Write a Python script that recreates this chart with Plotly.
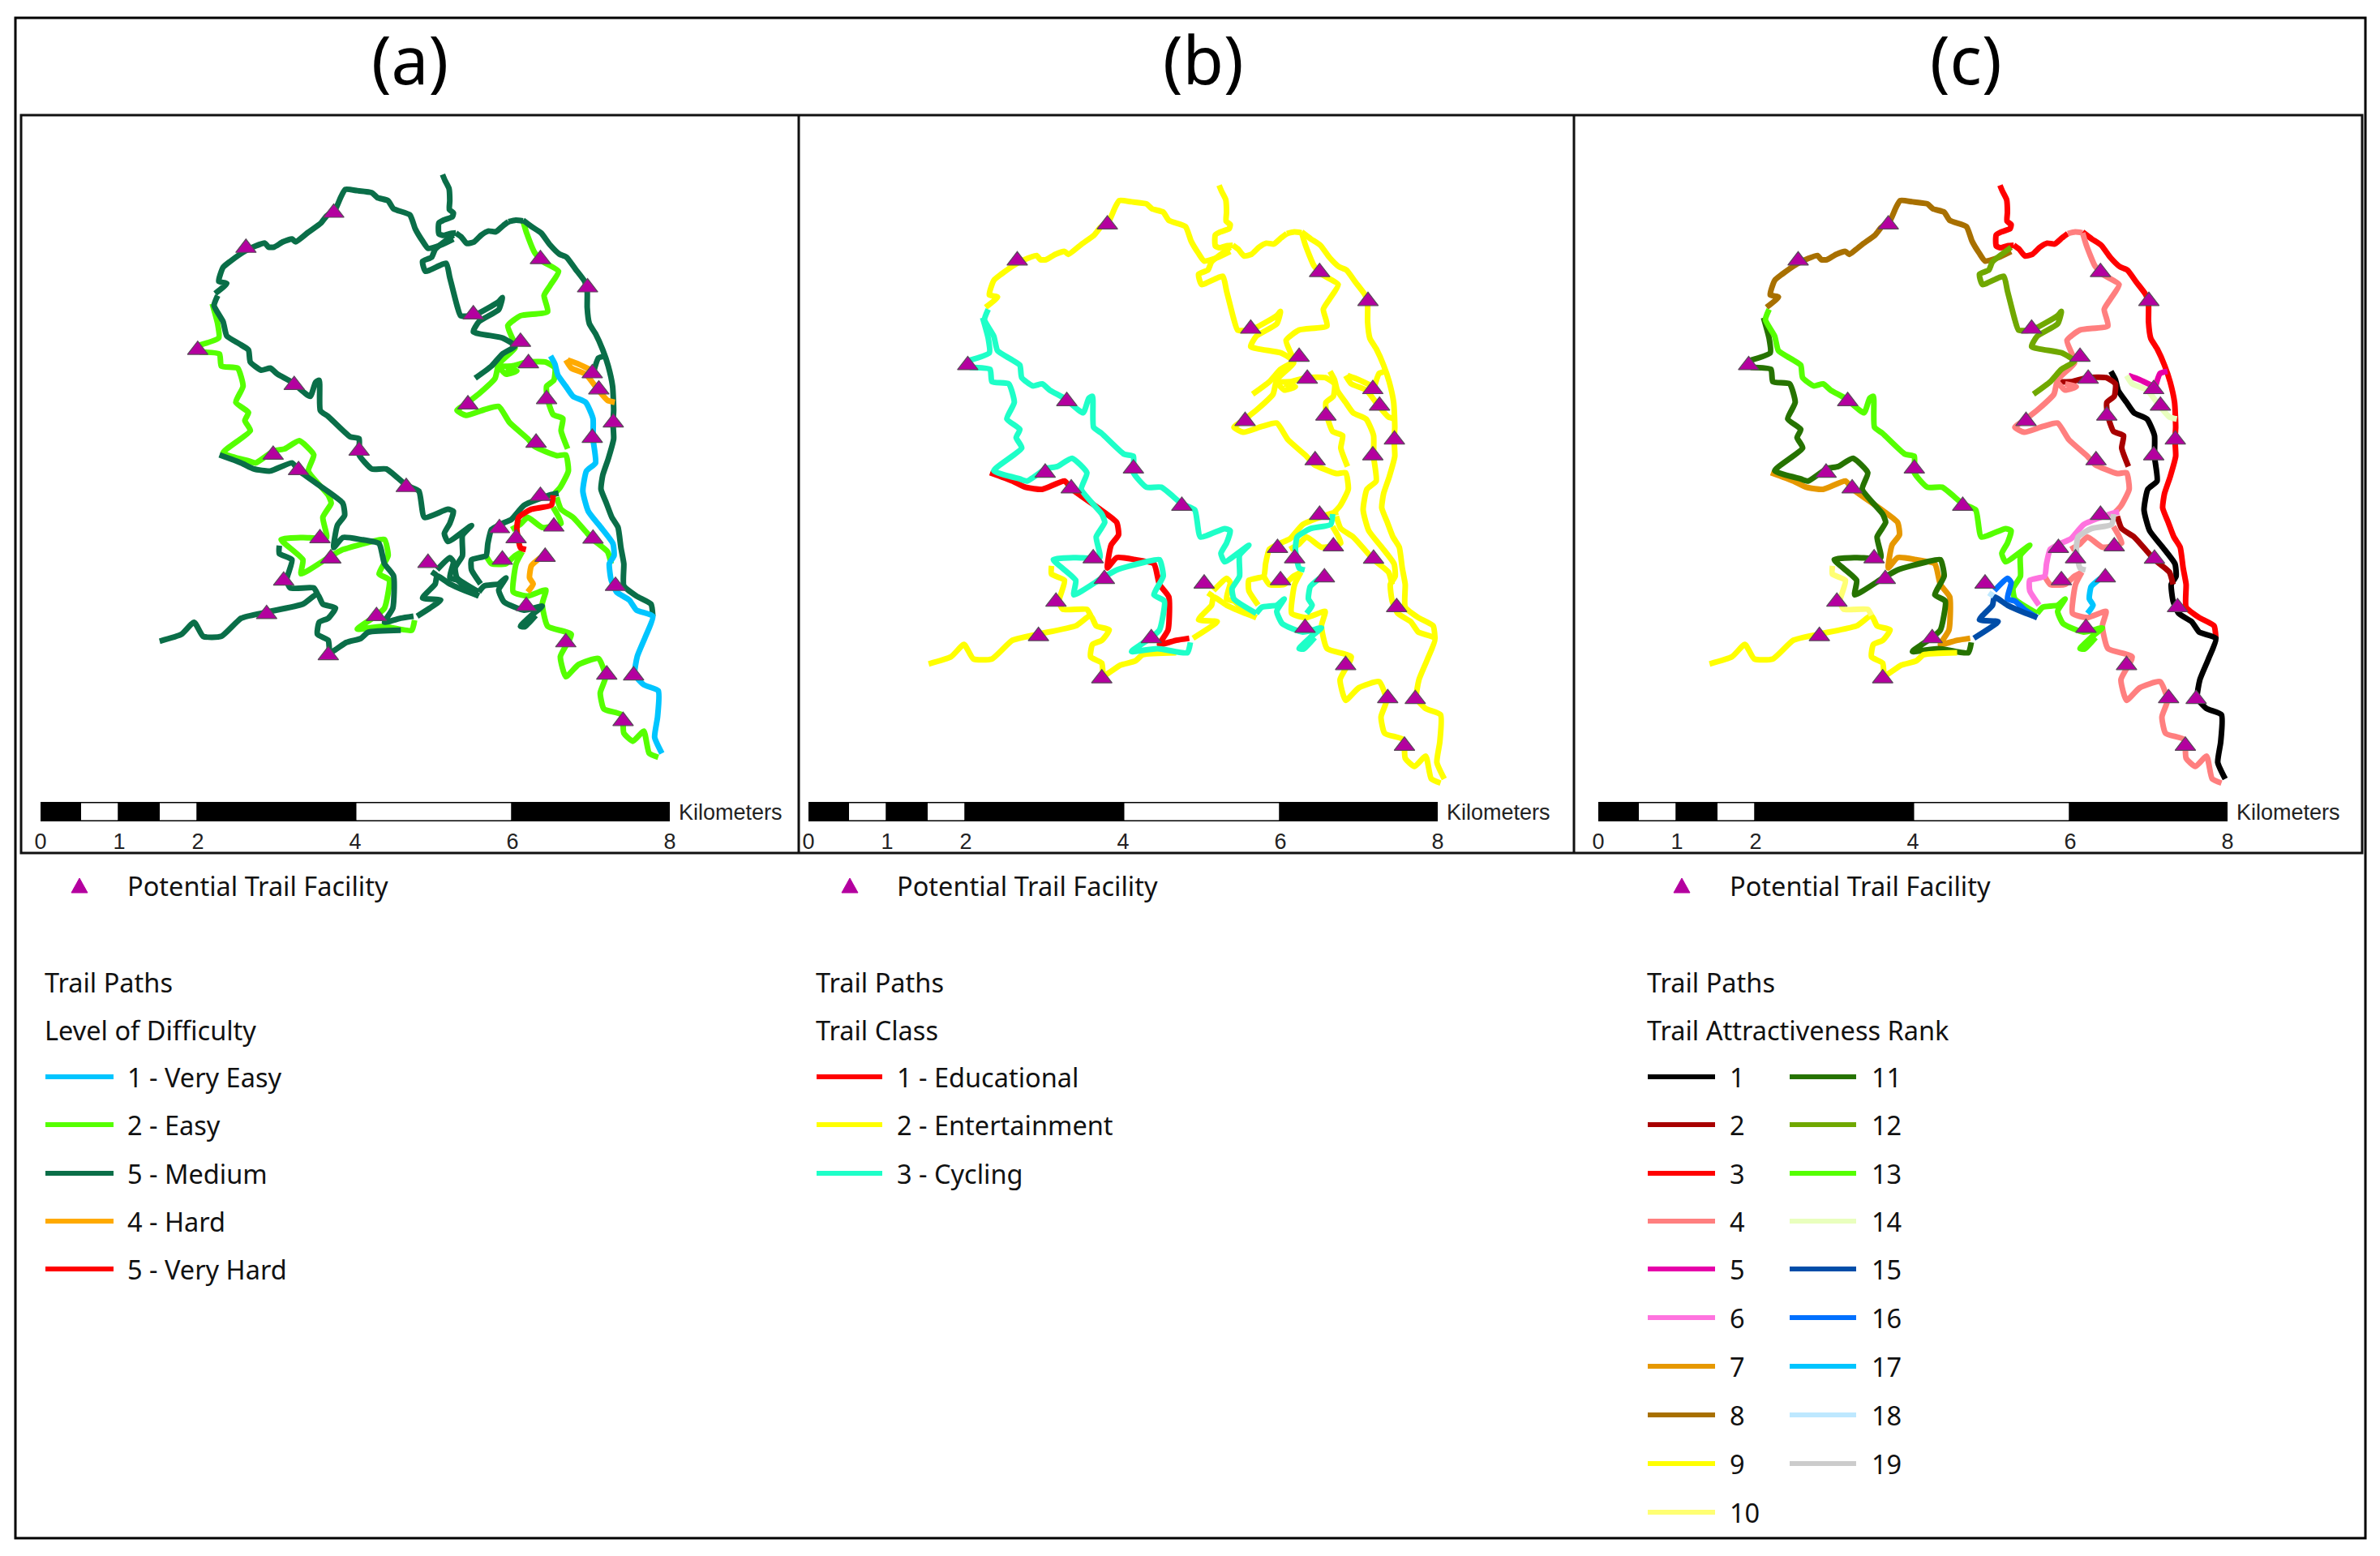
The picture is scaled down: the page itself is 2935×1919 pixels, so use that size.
import plotly.graph_objects as go

W, H = 2935, 1919

# trail lines, in map units
crest_west = [(258,390),(290,365),(268,360),(280,325),(300,310),(340,285),(370,272),(395,265),(405,275),(420,275),(445,262),(470,255),(480,262),(515,238),(550,215),(565,198),(590,180),(605,150),(617,132),(650,135),(690,140),(705,152),(735,160),(750,180),(795,195),(810,230),(830,260),(845,278),(880,270),(915,255)]
north_spur = [(885,95),(892,110),(903,130),(905,160),(904,182),(915,190),(912,200),(888,208),(875,215),(875,242),(888,246),(908,241),(922,240)]
crest_north = [(922,240),(937,250),(952,266),(972,262),(992,245),(1012,235),(1032,237),(1052,222),(1067,212)]
crest_link = [(1067,212),(1087,208),(1107,210)]
east_ridge = [(1107,208),(1132,225),(1157,240),(1182,270),(1207,292),(1227,300),(1252,330),(1277,360),(1284,385),(1284,425),(1290,465),(1307,490),(1327,530),(1342,570),(1354,620),(1357,680),(1355,710),(1357,750),(1342,800),(1327,840),(1322,875),(1337,910),(1352,945),(1369,970),(1377,1020),(1385,1060),(1385,1115),(1420,1140),(1460,1160),(1465,1190)]
valley_east = [(1183,545),(1195,565),(1203,592),(1225,620),(1245,645),(1280,660),(1300,700),(1300,750),(1307,810),(1282,830),(1272,880),(1287,930),(1322,970),(1355,1010),(1358,1040),(1345,1060),(1350,1100),(1365,1130),(1400,1150),(1420,1175),(1465,1190),(1445,1240),(1422,1290),(1415,1335),(1440,1360),(1480,1375),(1478,1440),(1470,1490),(1490,1530)]
spur_mid_upper = [(1040,570),(1075,570),(1120,560),(1170,560),(1195,575),(1192,605),(1172,620),(1174,650),(1190,690),(1217,700),(1212,730),(1230,775)]
spur_mid_lower = [(1200,895),(1212,925),(1245,945),(1280,980),(1300,1000),(1340,1030),(1350,1060)]
loop_north = [(1107,210),(1117,240),(1140,290),(1160,310),(1205,335),(1182,370),(1165,395),(1175,435),(1100,445),(1065,470),(1082,510),(1085,525),(1040,565),(1030,600),(990,635),(955,660),(925,680),(950,692),(1000,678),(1040,670),(1070,710),(1120,750),(1140,770),(1200,792),(1225,790),(1232,830),(1210,870),(1195,885)]
loop_hook = [(1040,572),(1060,590),(1090,582),(1060,575)]
loop_inner = [(1190,920),(1212,960),(1160,970),(1120,945),(1100,962),(1075,975)]
loop_link = [(1005,1040),(1020,1060),(1060,1060),(1085,1040),(1105,1030)]
south_descent = [(1105,1030),(1088,1060),(1080,1130),(1120,1140),(1170,1125),(1160,1160),(1175,1215),(1240,1235),(1210,1290),(1225,1340),(1260,1310),(1315,1295),(1335,1340),(1320,1380),(1330,1420),(1380,1435),(1385,1480),(1410,1500),(1440,1475),(1455,1530),(1480,1540)]
east_bend_a = [(1230,555),(1260,565),(1295,580)]
east_bend_b = [(1300,590),(1315,550),(1335,545)]
east_link = [(1225,555),(1240,575),(1280,590),(1315,630),(1340,655),(1360,660)]
village_west = [(990,1110),(965,1075),(965,1050),(1005,1040),(1010,1010),(1020,975),(1050,960),(1075,950),(1110,915),(1180,890),(1205,885)]
village_core = [(1190,890),(1185,915),(1130,925),(1095,945),(1090,975),(1100,1020),(1115,1025)]
village_south = [(1155,1045),(1130,1065),(1125,1095),(1135,1110),(1120,1130)]
west_lower = [(270,790),(330,810),(365,825),(410,830),(470,810),(490,830),(560,875),(610,910),(615,940),(595,965),(585,1020),(610,995),(660,1000),(710,1010),(725,1060),(750,1090),(748,1170),(725,1205),(770,1195),(805,1190)]
west_upper_a = [(250,415),(265,465),(268,500),(215,518)]
west_upper_b = [(215,535),(270,540),(275,570),(320,575),(335,620),(315,660),(350,685),(340,705),(355,730),(280,785),(350,805),(370,810),(420,780),(450,775),(490,755),(530,790),(515,830),(570,890),(578,910),(555,945),(565,995),(500,995),(440,1000),(500,1050),(495,1085),(570,1045),(610,1025),(690,1005),(725,1000),(735,1040),(710,1085),(738,1100),(725,1170),(700,1190),(650,1222),(720,1215),(800,1225),(808,1200)]
central_ridge = [(265,395),(255,420),(280,460),(290,495),(325,515),(350,530),(355,560),(385,580),(410,575),(430,590),(470,610),(520,645),(535,610),(545,605),(548,680),(570,695),(630,745),(655,750),(655,790),(690,825),(730,825),(785,865),(820,880),(835,945),(900,925),(915,930),(905,960),(890,985),(900,1005),(965,965),(940,990),(940,1040),(920,1070),(925,1095),(985,1130)]
central_south = [(985,1130),(1000,1115),(1040,1110),(1060,1095),(1040,1125),(1055,1155),(1110,1175),(1160,1165),(1130,1188),(1100,1215),(1112,1216),(1142,1188)]
gorge_blue = [(870,1075),(905,1045),(915,1055),(905,1095),(925,1100),(950,1120),(985,1140)]
gorge_dark = [(815,1190),(850,1170),(880,1150),(830,1145),(865,1110),(870,1090),(905,1110),(950,1128),(985,1140)]
gorge_pale = [(855,1080),(868,1088)]
ridge_olive = [(915,245),(865,280),(855,300),(830,310),(838,335),(895,315),(905,350),(925,420),(935,445),(970,445),(1040,410),(1050,400),(1040,430),(985,460),(970,485),(1050,500),(1085,520),(1050,540),(1020,570),(975,600)]
southwest_road = [(105,1252),(165,1235),(200,1205),(225,1240),(275,1240),(330,1195),(400,1180),(500,1160),(540,1135),(555,1160),(590,1170),(570,1195),(545,1205),(540,1235),(570,1250),(575,1280),(620,1255),(660,1245),(680,1230),(770,1225)]
southwest_link = [(435,1015),(435,1035),(470,1050),(455,1100),(465,1120),(530,1120),(540,1135)]

trail_paths = [crest_west, north_spur, crest_north, crest_link, east_ridge, valley_east, spur_mid_upper, spur_mid_lower,
               loop_north, loop_hook, loop_inner, loop_link, south_descent, east_bend_a, east_bend_b, east_link,
               village_west, village_core, village_south, west_lower, west_upper_a, west_upper_b, central_ridge,
               central_south, gorge_blue, gorge_dark, gorge_pale, ridge_olive, southwest_road, southwest_link]
trail_level = ["5m", "5m", "5m", "5m", "5m", "1", "2", "2",
               "2", "2", "2", "2", "2", "4", "5m", "4",
               "5m", "5h", "4", "5m", "2", "2", "5m",
               "5m", "5m", "5m", "5m", "5m", "5m", "5m"]
trail_class = [2, 2, 2, 2, 2, 2, 2, 2,
               2, 2, 2, 2, 2, 2, 2, 2,
               2, 3, 3, 1, 3, 3, 3,
               3, 2, 2, 2, 2, 2, 2]
trail_rank = [8, 3, 3, 4, 3, 1, 2, 2,
              4, 4, 4, 4, 4, 5, 5, 14,
              6, 19, 17, 7, 11, 11, 13,
              13, 16, 15, 18, 12, 9, 10]

facility_x = [585,343,210,476,655,785,418,488,547,577,447,400,570,703,845,970,1100,1122,1155,1285,955,1172,1143,1298,1316,1356,1298,1155,1042,1088,1192,1050,1168,1300,1362,1116,1225,1338,1412,1383]
facility_y = [190,277,530,617,780,870,790,828,997,1047,1102,1185,1287,1190,1058,442,510,563,305,375,665,652,760,588,628,710,748,892,972,997,968,1050,1043,998,1115,1165,1255,1335,1337,1450]

level_keys = ["1", "2", "5m", "4", "5h"]
level_labels = ["1 - Very Easy", "2 - Easy", "5 - Medium", "4 - Hard", "5 - Very Hard"]
level_colors = ["#00c5ff", "#55ff00", "#0a6e48", "#ffaa00", "#ff0000"]
class_keys = [1, 2, 3]
class_labels = ["1 - Educational", "2 - Entertainment", "3 - Cycling"]
class_colors = ["#ff0000", "#ffff00", "#1effc8"]
rank_keys = list(range(1, 20))
rank_colors = ["#000000", "#a80000", "#ff0000", "#ff7f7f", "#e600a9", "#ff73df", "#e69800", "#a87000", "#ffff00", "#ffff73",
               "#267300", "#70a800", "#55ff00", "#e9ffbe", "#004da8", "#0070ff", "#00c5ff", "#bee8ff", "#cccccc"]

scale_km = [0, 1, 2, 4, 6, 8]
scale_left = [0, 0.5, 1, 1.5, 2, 4, 6]
scale_width = [0.5, 0.5, 0.5, 0.5, 2, 2, 2]
scale_fill = ["black", "white", "black", "white", "black", "white", "black"]

TEXT = "Noto Sans"
LABEL = "Liberation Sans"
FACILITY = "#b4009f"
SIZE = 32.5


def px(x):
    return x / W


def py(y):
    return 1 - y / H


fig = go.Figure()

# panel: frame, linear map from map units to page pixels, scale bar, legend x positions
panels = [
    dict(name="a", title="(a)", cx=505, left=26, right=985, ax=196 + 0.974 * (2060 - 2107.3), bx=0.974 / 2.178,
         ay=791 + 0.975 * (180 - 819), by=0.975 / 1.96, bar=50, tri=98, txt=155, key0=56, key1=140),
    dict(name="b", title="(b)", cx=1484, left=985, right=1941, ax=2060 - 963, bx=1 / 2.178,
         ay=180, by=1 / 1.96, bar=997, tri=1048, txt=1104, key0=1007, key1=1088),
    dict(name="c", title="(c)", cx=2424, left=1941, right=2913, ax=2060, bx=1 / 2.178,
         ay=180, by=1 / 1.96, bar=1971, tri=2074, txt=2131, key0=2032, key1=2115),
]
TOP, BOTTOM = 142, 1052
KM = 97

colour_a = dict(zip(level_keys, level_colors))
colour_b = dict(zip(class_keys, class_colors))
colour_c = dict(zip(rank_keys, rank_colors))
order_a = ["2", "5m", "1", "4", "5h"]
order_b = [2, 1, 3]

layout = {}
annotations = []
shapes = []

for i, p in enumerate(panels):
    n = 2 * i + 1
    xa, ya = f"x{n}", f"y{n}"
    xb, yb = f"x{n + 1}", f"y{n + 1}"
    layout[f"xaxis{n}"] = dict(domain=[px(p["left"]), px(p["right"])], visible=False, anchor=ya, automargin=False,
                               range=[(p["left"] - p["ax"]) / p["bx"], (p["right"] - p["ax"]) / p["bx"]])
    layout[f"yaxis{n}"] = dict(domain=[py(BOTTOM), py(TOP)], visible=False, anchor=xa, automargin=False,
                               range=[(BOTTOM - p["ay"]) / p["by"], (TOP - p["ay"]) / p["by"]])

    if p["name"] == "a":
        idx = sorted(range(len(trail_paths)), key=lambda k: order_a.index(trail_level[k]))
        cols = [colour_a[v] for v in trail_level]
    elif p["name"] == "b":
        idx = sorted(range(len(trail_paths)), key=lambda k: order_b.index(trail_class[k]))
        cols = [colour_b[v] for v in trail_class]
    else:
        idx = list(range(len(trail_paths)))
        cols = [colour_c[v] for v in trail_rank]
    for k in idx:
        xs, ys = zip(*trail_paths[k])
        fig.add_trace(go.Scatter(x=xs, y=ys, mode="lines", xaxis=xa, yaxis=ya, showlegend=False, hoverinfo="skip",
                                 line=dict(color=cols[k], width=7, shape="spline", smoothing=0.5)))
    fig.add_trace(go.Scatter(x=facility_x, y=facility_y, mode="markers", xaxis=xa, yaxis=ya, showlegend=False,
                             marker=dict(symbol="triangle-up", size=22, color=FACILITY, line=dict(color="#5a4a5a", width=1.2)),
                             hoverinfo="skip"))

    # scale bar
    layout[f"xaxis{n + 1}"] = dict(domain=[px(p["bar"]), px(p["bar"] + 8 * KM)], range=[0, 8], anchor=yb, automargin=False,
                                   tickvals=scale_km, ticktext=[str(v) for v in scale_km], showgrid=False, zeroline=False,
                                   showline=False, ticks="", ticklabelstandoff=6, tickangle=0,
                                   tickfont=dict(family=LABEL, size=27, color="#222222"))
    layout[f"yaxis{n + 1}"] = dict(domain=[py(1013), py(989)], range=[-0.5, 0.5], anchor=xb, visible=False, automargin=False)
    fig.add_trace(go.Bar(y=[0] * len(scale_left), x=scale_width, base=scale_left, orientation="h", width=1,
                         marker=dict(color=scale_fill, line=dict(color="black", width=3)), xaxis=xb, yaxis=yb,
                         showlegend=False, hoverinfo="skip"))
    annotations.append(dict(xref="paper", yref="paper", x=px(p["bar"] + 8 * KM + 9), y=py(1002), text="Kilometers",
                            showarrow=False, xanchor="left", yanchor="middle",
                            font=dict(family=LABEL, size=27, color="#222222")))

    # title
    annotations.append(dict(xref="paper", yref="paper", x=px(p["cx"]), y=py(72), text=p["title"], showarrow=False,
                            xanchor="center", yanchor="middle", font=dict(family=TEXT, size=82, color="black")))

    # legend header
    annotations.append(dict(xref="paper", yref="paper", x=px(p["txt"]), y=py(1092), text="Potential Trail Facility",
                            showarrow=False, xanchor="left", yanchor="middle", font=dict(family=TEXT, size=SIZE, color="#111111")))
    shapes.append(dict(type="path", xref="paper", yref="paper", line=dict(color=FACILITY, width=1), fillcolor=FACILITY,
                       path=f"M {px(p['tri'] - 10)} {py(1101)} L {px(p['tri'] + 10)} {py(1101)} L {px(p['tri'])} {py(1083)} Z"))
    annotations.append(dict(xref="paper", yref="paper", x=px(p["key0"] - 3), y=py(1211), text="Trail Paths", showarrow=False,
                            xanchor="left", yanchor="middle", font=dict(family=TEXT, size=SIZE, color="#111111")))

legend_titles = ["Level of Difficulty", "Trail Class", "Trail Attractiveness Rank"]
row_y = [1328, 1387, 1447, 1506, 1565, 1625, 1685, 1745, 1805, 1865]


def legend_row(x0, x1, xt, y, colour, label):
    shapes.append(dict(type="line", xref="paper", yref="paper", x0=px(x0), x1=px(x1), y0=py(y), y1=py(y),
                       line=dict(color=colour, width=6)))
    annotations.append(dict(xref="paper", yref="paper", x=px(xt), y=py(y), text=label, showarrow=False,
                            xanchor="left", yanchor="middle", font=dict(family=TEXT, size=SIZE, color="#111111")))


for p, title in zip(panels, legend_titles):
    annotations.append(dict(xref="paper", yref="paper", x=px(p["key0"] - 3), y=py(1270), text=title, showarrow=False,
                            xanchor="left", yanchor="middle", font=dict(family=TEXT, size=SIZE, color="#111111")))

for y, c, t in zip(row_y, level_colors, level_labels):
    legend_row(panels[0]["key0"], panels[0]["key1"], panels[0]["txt"], y, c, t)
for y, c, t in zip(row_y, class_colors, class_labels):
    legend_row(panels[1]["key0"], panels[1]["key1"], panels[1]["txt"], y, c, t)
for r, c in zip(rank_keys, rank_colors):
    if r <= 10:
        legend_row(2032, 2115, 2131, row_y[r - 1], c, str(r))
    else:
        legend_row(2207, 2289, 2306, row_y[r - 11], c, str(r))

# frames
shapes.append(dict(type="rect", xref="paper", yref="paper", x0=px(19), x1=px(2917), y0=py(1897), y1=py(22),
                   line=dict(color="black", width=3)))
shapes.append(dict(type="rect", xref="paper", yref="paper", x0=px(26), x1=px(2913), y0=py(BOTTOM), y1=py(TOP),
                   line=dict(color="#111111", width=3)))
for x in [985, 1941]:
    shapes.append(dict(type="line", xref="paper", yref="paper", x0=px(x), x1=px(x), y0=py(BOTTOM), y1=py(TOP),
                       line=dict(color="#111111", width=3)))

fig.update_layout(width=W, height=H, margin=dict(l=0, r=0, t=0, b=0, pad=0), paper_bgcolor="white", plot_bgcolor="white",
                  barmode="overlay", annotations=annotations, shapes=shapes, showlegend=False, **layout)

fig.write_html("out.html", config=dict(displayModeBar=False), post_script="document.body.style.margin='0';")
